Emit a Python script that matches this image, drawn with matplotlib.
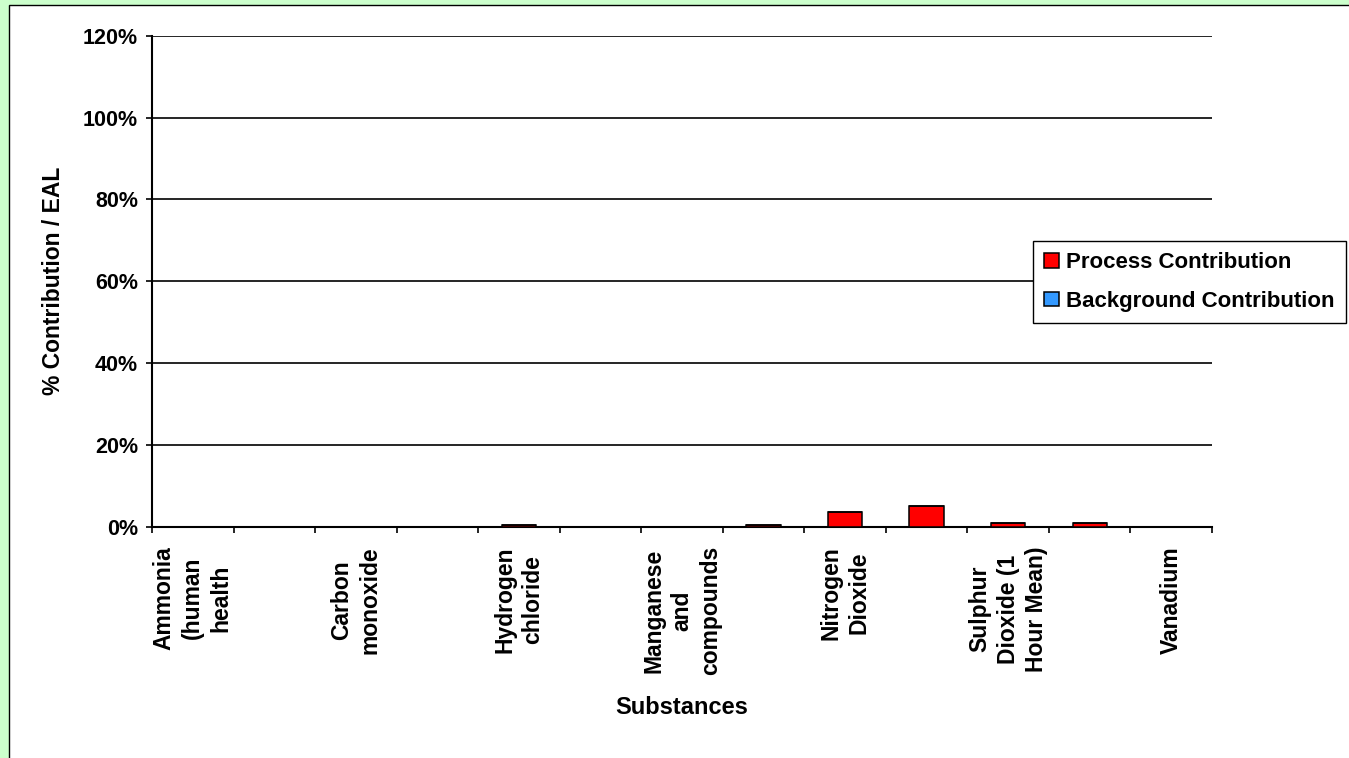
import numpy as np
import matplotlib
matplotlib.use("Agg")
import matplotlib.pyplot as plt
from matplotlib.patches import Rectangle
from matplotlib.ticker import PercentFormatter, FixedLocator

plt.rcParams['font.family'] = ['Liberation Sans', 'DejaVu Sans']
plt.rcParams['font.weight'] = 'bold'

# substances in chart order (only every other one gets a tick label)
substances = [
    "Ammonia\n(human\nhealth",
    "Benzene",
    "Carbon\nmonoxide",
    "Chromium",
    "Hydrogen\nchloride",
    "Hydrogen fluoride",
    "Manganese\nand\ncompounds",
    "Mercury",
    "Nitrogen\nDioxide",
    "Particulates",
    "Sulphur\nDioxide (1\nHour Mean)",
    "Sulphur Dioxide (15 Min Mean)",
    "Vanadium",
]

# % of EAL
process_contribution = [0, 0, 0, 0, 0.4, 0, 0, 0.4, 3.6, 5.1, 1.0, 1.0, 0]
background_contribution = [0, 0, 0, 0, 0, 0, 0, 0, 0, 0, 0, 0, 0]

W, H = 1349, 758
fig = plt.figure(figsize=(W / 100, H / 100), dpi=100, facecolor='#CCFFCC')

# white chart area with black outline, kept behind the axes
fig.patches.append(Rectangle((9 / W, -0.1), 2, 1 - 5 / H + 0.1,
                             transform=fig.transFigure, facecolor='white',
                             edgecolor='black', lw=1.0, zorder=-10))

ax = fig.add_axes([152 / W, 1 - 526.7 / H, 1060 / W, 491 / H])
ax.set_facecolor('white')

x = np.arange(len(substances))
ax.bar(x, process_contribution, width=0.42, color='#FF0000',
       edgecolor='black', lw=1.1, label='Process Contribution', zorder=3)
ax.bar(x, background_contribution, width=0.42, bottom=process_contribution,
       color='#3399FF', edgecolor='black', lw=1.1,
       label='Background Contribution', zorder=3)

ax.set_xlim(-0.5, len(substances) - 0.5)
ax.set_ylim(0, 120)
ax.set_yticks(np.arange(0, 121, 20))
ax.yaxis.set_major_formatter(PercentFormatter(100, decimals=0))
ax.yaxis.grid(True, color='black', lw=1.2, zorder=0)
ax.set_axisbelow(True)

# labels on every other category, ticks on category boundaries
ax.xaxis.set_major_locator(FixedLocator(x[::2]))
ax.set_xticklabels(substances[::2], rotation=90, ha='center', va='top',
                   multialignment='center', fontsize=16.5, linespacing=1.3)
ax.tick_params(axis='x', which='major', length=0, pad=14)
ax.xaxis.set_minor_locator(FixedLocator(np.arange(-0.5, len(substances), 1)))
ax.tick_params(axis='x', which='minor', length=4, width=1.2, direction='out')
ax.tick_params(axis='y', length=4, width=1.2, direction='out', pad=6,
               labelsize=15.5)

for side in ['top', 'right']:
    ax.spines[side].set_visible(False)
for side in ['left', 'bottom']:
    ax.spines[side].set_linewidth(1.5)

ax.set_xlabel('Substances', fontsize=17, fontweight='bold')
ax.xaxis.set_label_coords(0.5, (526.7 - 708) / 491)
ax.xaxis.label.set_va('center')
ax.set_ylabel('% Contribution / EAL', fontsize=16.5, fontweight='bold')
ax.yaxis.set_label_coords((53 - 152) / 1060, 0.5)
ax.yaxis.label.set_va('center')

leg = fig.legend(loc='upper left', bbox_to_anchor=(1033 / W, 1 - 241 / H),
                 bbox_transform=fig.transFigure, fontsize=16,
                 frameon=True, fancybox=False, shadow=False, borderaxespad=0,
                 handlelength=0.65, handleheight=0.65, handletextpad=0.35,
                 labelspacing=0.8, borderpad=0.5)
leg.get_frame().set_edgecolor('black')
leg.get_frame().set_linewidth(1.0)
leg.get_frame().set_alpha(1)

fig.savefig('out.png', dpi=100, facecolor=fig.get_facecolor())
